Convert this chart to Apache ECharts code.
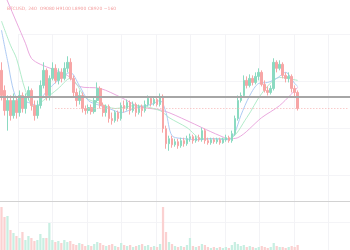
<!DOCTYPE html>
<html><head><meta charset="utf-8">
<script src="https://cdn.jsdelivr.net/npm/echarts@6/dist/echarts.min.js"></script>
<style>html,body{margin:0;padding:0;background:#fff}#c{width:350px;height:250px}</style>
</head><body><div id="c"></div>
<script>
const headerText = 'BTCUSD, 240  O9080 H9100 L8900 C8920 −160';
const opens  = [9300,9100,8900,9000,8850,9000,8880,9050,8920,9030,9100,8950,8850,8950,9150,9300,9050,9220,9320,9200,9280,9220,9320,9380,9220,9080,9000,9050,8920,8900,8930,8890,9000,9120,8950,8880,8940,8820,8800,8880,8820,8950,8920,8980,8900,8960,8880,8940,8900,8960,9020,8970,9010,8960,9040,8720,8570,8620,8560,8590,8550,8600,8570,8620,8640,8600,8630,8610,8700,8600,8580,8610,8590,8610,8580,8610,8630,8600,8670,8820,9000,9050,9200,9150,9220,9180,9240,9280,9160,9100,9080,9120,9380,9320,9360,9250,9220,9240,9120,9080];
const closes = [9050,8900,9000,8850,9000,8880,9050,8920,9030,9100,8950,8850,8950,9150,9300,9050,9220,9320,9200,9280,9220,9320,9380,9220,9080,9000,9050,8920,8900,8930,8890,9000,9120,8950,8880,8940,8820,8800,8880,8820,8950,8920,8980,8900,8960,8880,8940,8900,8960,9020,8970,9010,8960,9040,8720,8570,8620,8560,8590,8550,8600,8570,8620,8640,8600,8630,8610,8700,8600,8580,8610,8590,8610,8580,8610,8630,8600,8670,8820,9000,9050,9200,9150,9220,9180,9240,9280,9160,9100,9080,9120,9380,9320,9360,9250,9220,9240,9120,9080,8920];
const lows   = [9000,8850,8700,8800,8820,8820,8840,8880,8870,9000,8900,8800,8820,8920,9120,9000,9000,9200,9170,9160,9180,9200,9280,9200,9040,8940,8960,8880,8860,8870,8860,8870,8980,8920,8840,8840,8780,8760,8780,8790,8800,8880,8900,8860,8880,8840,8860,8840,8880,8940,8940,8950,8940,8940,8680,8520,8500,8530,8540,8520,8530,8540,8550,8590,8570,8580,8590,8590,8570,8560,8560,8570,8570,8560,8570,8590,8580,8580,8650,8800,8980,9030,9120,9130,9150,9160,9200,9140,9080,9050,9060,9100,9280,9300,9220,9180,9180,9080,9040,8900];
const highs  = [9380,9150,9050,9050,9070,9040,9100,9080,9070,9140,9120,9000,9000,9200,9380,9320,9250,9380,9360,9320,9320,9380,9440,9420,9250,9120,9100,9080,8950,8960,8960,9040,9180,9140,8980,8960,8960,8880,8900,8900,8980,9000,9010,9000,8990,8980,8960,8960,9000,9050,9040,9030,9040,9070,9060,8750,8650,8650,8620,8620,8630,8630,8650,8670,8660,8650,8660,8730,8720,8630,8630,8630,8630,8630,8630,8660,8650,8700,8850,9050,9080,9250,9240,9260,9250,9280,9320,9300,9200,9140,9150,9420,9400,9400,9380,9280,9280,9260,9150,9100];
const volumes = [43,33,34,20,17,14,12,18,10,14,12,9,10,16,12,12,27,10,8,9,7,10,8,9,6,5,7,6,4,5,4,6,8,7,5,4,5,6,4,3,7,5,4,5,3,4,5,6,4,5,3,4,3,6,43,18,8,6,4,3,4,3,5,12,4,3,4,6,5,3,2,3,2,3,2,3,2,5,8,6,4,5,3,4,3,2,3,4,3,2,3,7,4,3,3,2,3,4,3,5];
const maSlow = [[0,10130],[2,9990],[5,9780],[8,9570],[10,9420],[13,9360],[22,9250],[26,9140],[33,9120],[40,9030],[46,8940],[54,8900],[62,8800],[67,8730],[73,8650],[76,8620],[79,8630],[87,8830],[93,8950],[99,9130]];
const maMid  = [[0,9790],[3,9550],[5,9420],[8,9100],[11,8930],[14,9000],[19,9120],[23,9220],[25,9170],[28,9030],[33,8970],[38,8920],[45,8950],[53,8900],[56,8830],[62,8730],[67,8620],[76,8620],[82,8830],[87,9070],[93,9230],[99,9200]];
const maFast = [[0,9700],[2,9400],[5,9020],[9,8980],[12,8950],[14,9050],[17,9150],[21,9250],[23,9280],[26,9150],[29,9000],[32,8960],[36,8920],[40,8880],[45,8930],[50,8960],[53,9000],[55,8880],[57,8650],[61,8620],[66,8610],[70,8620],[76,8610],[78,8680],[80,8850],[83,9050],[86,9170],[89,9180],[92,9220],[95,9280],[98,9170],[99,9140]];
const levelLine = 9040;
const lastPrice = 8920;
const lastPriceStart = 18;
const totalSlots = 117;

const categories = [];
for (let i = 0; i < totalSlots; i++) categories.push(String(i));
const candleData = opens.map((o, i) => [o, closes[i], lows[i], highs[i]]);
const UP = '#8bdac1', DOWN = '#f7a6a6';
const volData = volumes.map((v, i) => ({value: v, itemStyle: {color: closes[i] >= opens[i] ? '#c8efe2' : '#fbd1d1'}}));

const chart = echarts.init(document.getElementById('c'), null, {renderer: 'canvas'});
chart.setOption({
  animation: false,
  backgroundColor: '#ffffff',
  title: {text: headerText, left: 2, top: 1, textStyle: {fontSize: 4.5, color: '#f4a0a0', fontWeight: 'normal', fontFamily: 'DejaVu Sans'}},
  grid: [
    {left: 0, right: 0, top: 0, height: 201},
    {left: 0, right: 0, top: 202, height: 48},
    {left: 18, right: 0, top: 34, bottom: 0}
  ],
  xAxis: [
    {type: 'category', data: categories, gridIndex: 0, boundaryGap: true, axisLabel: {show: false}, axisTick: {show: false}, axisLine: {show: true, lineStyle: {color: '#d2d2d2', width: 1}}, splitLine: {show: false}},
    {type: 'category', data: categories, gridIndex: 1, boundaryGap: true, show: false},
    {type: 'value', gridIndex: 2, min: 0, max: 9.623, interval: 1, axisLabel: {show: false}, axisTick: {show: false}, axisLine: {show: false}, splitLine: {show: true, lineStyle: {color: '#f3f3f6', width: 1}}}
  ],
  yAxis: [
    {type: 'value', gridIndex: 0, min: 8000, max: 10000, show: false},
    {type: 'value', gridIndex: 1, min: 0, max: 48, show: false},
    {type: 'value', gridIndex: 2, inverse: true, min: 0, max: 4.596, interval: 1, axisLabel: {show: false}, axisTick: {show: false}, axisLine: {show: false}, splitLine: {show: true, lineStyle: {color: '#f4f4f7', width: 1}}}
  ],
  series: [
    {type: 'scatter', xAxisIndex: 2, yAxisIndex: 2, data: [], silent: true},
    {type: 'line', xAxisIndex: 0, yAxisIndex: 0, data: maSlow, showSymbol: false, connectNulls: true, smooth: 0.3, lineStyle: {color: '#eaa9de', width: 1}, z: 3},
    {type: 'line', xAxisIndex: 0, yAxisIndex: 0, data: maMid, showSymbol: false, connectNulls: true, smooth: 0.3, lineStyle: {color: '#b2ecca', width: 1}, z: 3},
    {type: 'line', xAxisIndex: 0, yAxisIndex: 0, data: maFast, showSymbol: false, connectNulls: true, smooth: 0.3, lineStyle: {color: '#aecbf4', width: 1}, z: 3},
    {type: 'candlestick', xAxisIndex: 0, yAxisIndex: 0, data: candleData, barWidth: '70%', z: 4,
      itemStyle: {color: UP, color0: DOWN, borderColor: UP, borderColor0: DOWN, borderWidth: 1},
      markLine: {silent: true, symbol: 'none', label: {show: false},
        data: [
          {yAxis: levelLine, lineStyle: {color: '#a6a6a6', width: 2, type: 'solid'}},
          [{coord: [lastPriceStart, lastPrice], lineStyle: {color: '#f7b4b4', width: 1, type: [1, 2]}}, {coord: [totalSlots - 1, lastPrice]}]
        ]}
    },
    {type: 'bar', xAxisIndex: 1, yAxisIndex: 1, data: volData, barWidth: '75%'}
  ]
});
</script></body></html>
